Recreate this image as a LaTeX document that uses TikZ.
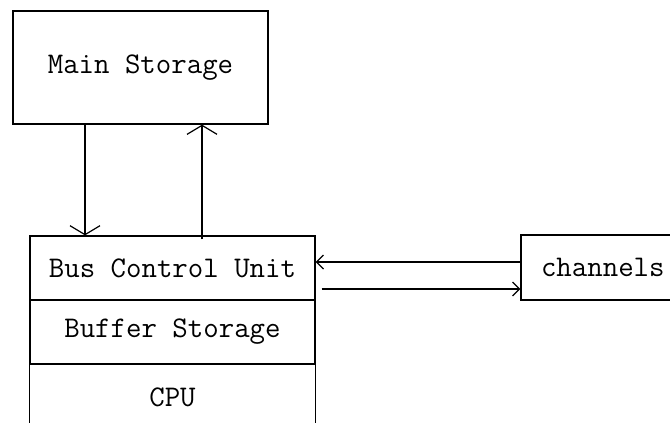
\documentclass[tikz,border=0pt]{standalone}
\usepackage{fontspec}
\usetikzlibrary{arrows.meta}
\tikzset{
  tw/.style={font=\ttfamily\fontsize{30}{34}\selectfont},
  unit/.style={draw, line width=1.3pt, inner sep=0pt, tw},
  vbus/.style={line width=1.2pt, -{Straight Barb[length=9pt,width=30pt,line width=1.2pt]}},
  hbus/.style={line width=1.2pt, -{Straight Barb[length=7pt,width=14pt,line width=1.2pt]}}
}
\begin{document}
\begin{tikzpicture}[x=1pt,y=-1pt]
  \useasboundingbox (0,0) rectangle (670,423);
  \clip (0,0) rectangle (670,423);
  % memory
  \node[unit, minimum width=255pt, minimum height=113pt] (ms) at (140.5,67.5) {Main Storage};
  % processor stack
  \node[unit, minimum width=285pt, minimum height=64pt] (bcu) at (172.5,268) {Bus Control Unit};
  \node[unit, minimum width=285pt, minimum height=64pt] (buf) at (172.5,332) {Buffer Storage};
  \node[tw, inner sep=0pt] (cpu) at (172.5,397) {CPU};
  \draw[line width=1.3pt] (buf.south west) -- ++(0,70);
  \draw[line width=1.3pt] (buf.south east) -- ++(0,70);
  % channels
  \node[unit, minimum width=170pt, minimum height=65pt, text width=150pt, align=left] (ch) at (606,267.5) {\hspace*{10pt}channels};
  % storage paths
  \coordinate (dn) at (85,0);
  \coordinate (up) at (202,0);
  \draw[vbus] (ms.south -| dn) -- (bcu.north -| dn);
  \draw[vbus] ([yshift=-4pt]bcu.north -| up) -- (ms.south -| up);
  % channel paths
  \coordinate (h1) at (0,262);
  \coordinate (h2) at (0,289);
  \draw[hbus] (ch.west |- h1) -- (bcu.east |- h1);
  \draw[hbus] ([xshift=6pt]bcu.east |- h2) -- (ch.west |- h2);
\end{tikzpicture}
\end{document}
